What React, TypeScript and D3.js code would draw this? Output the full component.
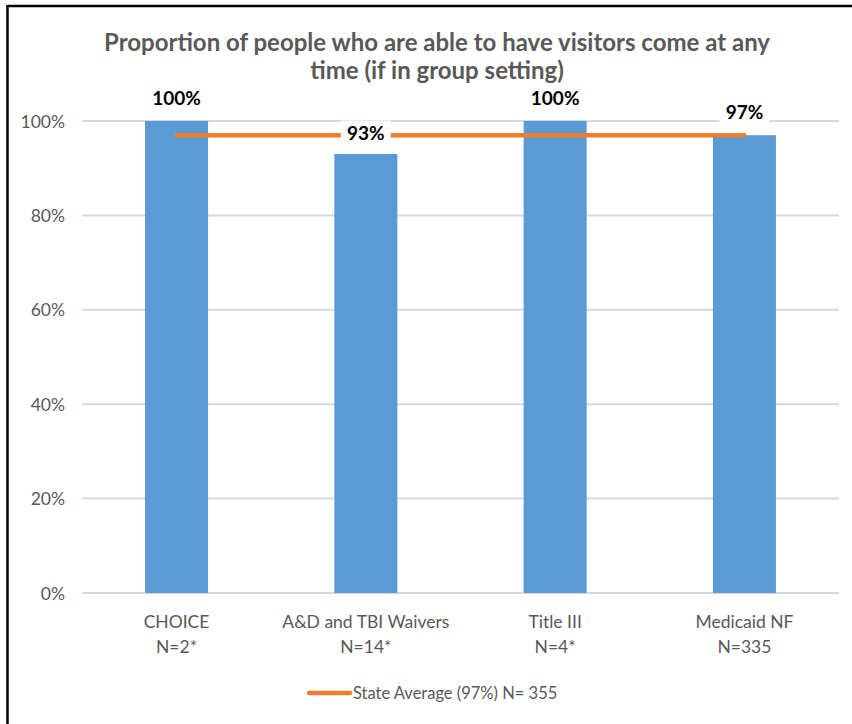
import React from "react";
import * as d3 from "d3";

const categories = ["CHOICE", "A&D and TBI Waivers", "Title III", "Medicaid NF"];
const sampleSizes = ["N=2*", "N=14*", "N=4*", "N=335"];
const values = [1.0, 0.93, 1.0, 0.97];
const valueLabels = ["100%", "93%", "100%", "97%"];
const stateAverage = [0.97, 0.97, 0.97, 0.97];
const yTicks = [0, 0.2, 0.4, 0.6, 0.8, 1.0];
const titleLines = [
  "Proportion of people who are able to have visitors come at any",
  "time (if in group setting)",
];
const legendLabel = "State Average (97%) N= 355";

const W = 852;
const H = 724;
const FONT = "Lato, 'Open Sans', sans-serif";
const GRAY = "#595959";
const BLUE = "#5B9BD5";
const ORANGE = "#ED7D31";

export default function App() {
  const left = 82;
  const right = 839;
  const top = 121;
  const bottom = 593;

  const x = d3.scaleBand<string>().domain(categories).range([left, right]).paddingInner(0.667).paddingOuter(0.333);
  const y = d3.scaleLinear().domain([0, 1]).range([bottom, top]);
  const fmt = d3.format(".0%");

  const cx = (c: string) => (x(c) as number) + x.bandwidth() / 2;

  const line = d3
    .line<number>()
    .x((_, i) => cx(categories[i]))
    .y((d) => y(d));

  const labelBaseline = (v: number) => y(v) - 16;

  return (
    <svg
      width={W}
      height={H}
      style={{ position: "absolute", left: 0, top: 0, background: "#fff" }}
      fontFamily={FONT}
    >
      <rect x={0} y={0} width={W} height={H} fill="#fff" />
      <line x1={7.5} y1={6} x2={W} y2={6} stroke="#000" strokeWidth={2.5} />
      <line x1={7.5} y1={5} x2={7.5} y2={H} stroke="#000" strokeWidth={2.5} />

      {titleLines.map((t, i) => (
        <text
          key={i}
          x={437}
          y={51 + i * 28}
          textAnchor="middle"
          fontSize={24}
          fontWeight="bold"
          fill={GRAY}
        >
          {t}
        </text>
      ))}

      {yTicks.map((t) => (
        <g key={t}>
          <line x1={left} x2={right} y1={y(t)} y2={y(t)} stroke="#D9D9D9" strokeWidth={2} />
          <text x={65} y={y(t) + 6.5} textAnchor="end" fontSize={17.5} fill={GRAY}>
            {fmt(t)}
          </text>
        </g>
      ))}

      {categories.map((c, i) => (
        <rect
          key={c}
          x={x(c)}
          y={y(values[i])}
          width={x.bandwidth()}
          height={bottom - y(values[i])}
          fill={BLUE}
        />
      ))}

      <path d={line(stateAverage) || ""} fill="none" stroke={ORANGE} strokeWidth={4.5} strokeLinecap="round" />

      {categories.map((c, i) => {
        const bx = cx(c);
        const by = labelBaseline(values[i]) + (values[i] < 0.95 ? 1.5 : 0);
        const needsBg = values[i] < 1;
        return (
          <g key={c}>
            {needsBg && <rect x={bx - 25} y={by - 19} width={50} height={24} fill="#fff" />}
            <text x={bx} y={by} textAnchor="middle" fontSize={19} fontWeight="bold" fill="#000">
              {valueLabels[i]}
            </text>
          </g>
        );
      })}

      {categories.map((c, i) => (
        <g key={c}>
          <text x={cx(c)} y={628} textAnchor="middle" fontSize={17.5} fill={GRAY}>
            {c}
          </text>
          <text x={cx(c)} y={653} textAnchor="middle" fontSize={17.5} fill={GRAY}>
            {sampleSizes[i]}
          </text>
        </g>
      ))}

      <line x1={309} x2={350} y1={693} y2={693} stroke={ORANGE} strokeWidth={4.5} strokeLinecap="round" />
      <text x={353} y={699} fontSize={16.5} fill={GRAY}>
        {legendLabel}
      </text>
    </svg>
  );
}
